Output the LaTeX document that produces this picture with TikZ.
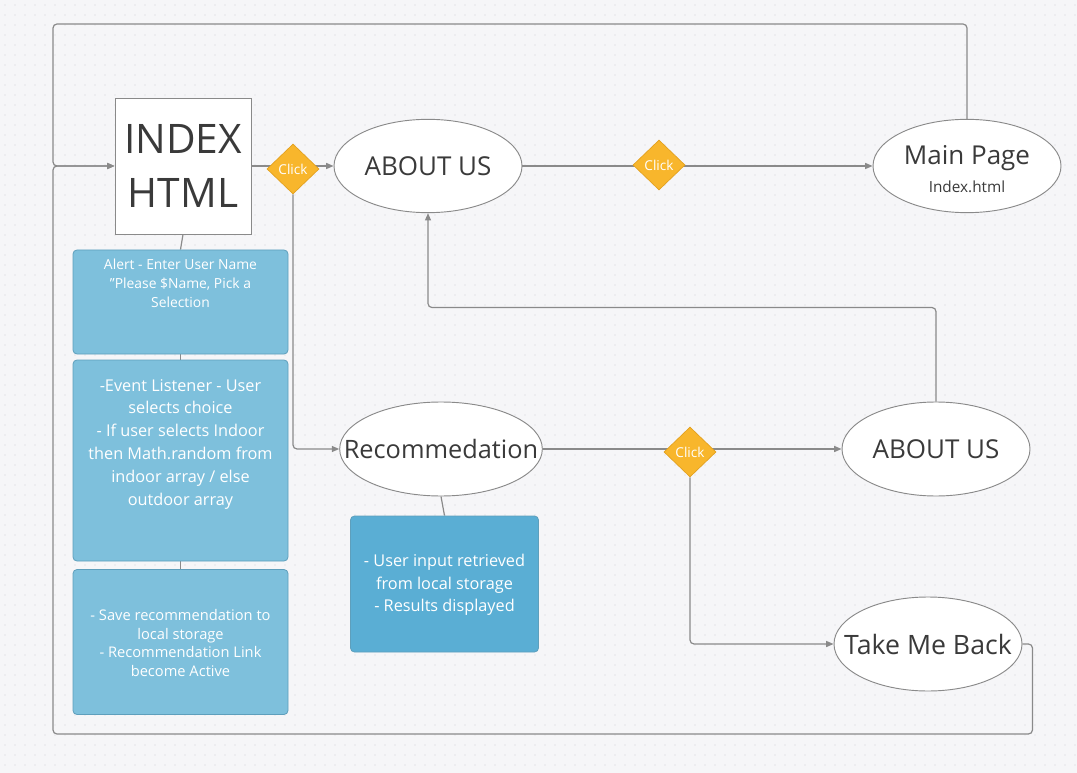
\documentclass[tikz,border=0pt]{standalone}
\usepackage{fontspec}
\setmainfont{Open Sans}
\usetikzlibrary{shapes.geometric,arrows.meta}
\pgfdeclarelayer{bgzero}
\pgfdeclarelayer{background}
\pgfsetlayers{bgzero,background,main}
\definecolor{bgc}{HTML}{F6F6F8}
\definecolor{dotc}{HTML}{E1E1E7}
\definecolor{linec}{HTML}{8A8A8A}
\definecolor{txtc}{HTML}{3A3A3A}
\definecolor{boxc}{HTML}{7EC0DC}
\definecolor{boxb}{HTML}{5E9FBC}
\definecolor{boxd}{HTML}{5AAED4}
\definecolor{clickc}{HTML}{F8B62C}
\definecolor{clickb}{HTML}{E2A01E}
\newcommand{\fs}[2]{\fontsize{#1}{#2}\selectfont}
\tikzset{
  conn/.style={draw=linec, line width=0.9pt, rounded corners=3pt},
  arr/.style={-{Triangle[length=5.5pt,width=4.5pt]}},
  ell/.style={ellipse, draw=linec, line width=0.7pt, fill=white, inner sep=0pt},
  etxt/.style={text=txtc, inner sep=0pt, align=center},
  clickbox/.style={diamond, fill=clickc, draw=clickb, line width=0.5pt, inner sep=0pt,
     minimum width=39pt, minimum height=37.5pt, text=white, font=\fs{10.2}{12}},
  bluebox/.style={rectangle, rounded corners=3pt, fill=boxc, draw=boxb, line width=0.6pt},
  bluetxt/.style={text=white, align=center, inner sep=0pt},
}
\begin{document}
\begin{tikzpicture}[x=0.75pt,y=-0.75pt]
\useasboundingbox (0,0) rectangle (1077,773);
\begin{pgfonlayer}{bgzero}
\fill[bgc] (0,0) rectangle (1077,773);
\foreach \j in {5,15,...,770} {
  \fill[dotc] \foreach \i in {5,15,...,1075} { (\i-0.6,\j-0.6) rectangle ++(1.2,1.2) };
}
\end{pgfonlayer}

% main nodes
\node[rectangle, draw=linec, line width=0.7pt, fill=white, minimum width=102pt, minimum height=102pt,
      text=txtc, align=center, font=\fs{30.5}{40.5}, inner sep=0pt] (idx) at (183,166) {INDEX\\HTML};
\node[clickbox] (c1) at (293,169) {Click};
\node[ell, minimum width=141pt, minimum height=70pt] (a1) at (428,166) {};
\node[etxt, font=\fs{19.5}{24}] (a1t) at (a1) {ABOUT US};
\node[clickbox] (c2) at (659,165) {Click};
\node[ell, minimum width=141pt, minimum height=70pt] (mp) at (967,166) {};
\node[etxt, font=\fs{19.5}{21}] (mpt) at (967,169) {Main Page\\[0pt]{\fs{11.5}{14}Index.html}};
\node[ell, minimum width=152pt, minimum height=70.5pt] (rec) at (441,449) {};
\node[etxt, font=\fs{19}{24}] (rect) at (rec) {Recommedation};
\node[clickbox] (c3) at (690,452) {Click};
\node[ell, minimum width=141pt, minimum height=70.5pt] (a2) at (936,449) {};
\node[etxt, font=\fs{19.5}{24}] (a2t) at (a2) {ABOUT US};
\node[ell, minimum width=141pt, minimum height=70.5pt] (tmb) at (928,644) {};
\node[etxt, font=\fs{20}{24}] (tmbt) at (tmb) {Take Me Back};

% blue boxes
\node[bluebox, minimum width=161.25pt, minimum height=78pt] (b1) at (180.5,302) {};
\node[bluebox, minimum width=161.25pt, minimum height=150.75pt] (b2) at (180.5,460.5) {};
\node[bluebox, minimum width=161.25pt, minimum height=108.75pt] (b3) at (180.5,642) {};
\node[bluebox, fill=boxd, minimum width=141pt, minimum height=102pt] (b4) at (444.5,584) {};

\node[bluetxt, font=\fs{10.4}{14.2}, anchor=north] (t1) at (180.5,259)
  {Alert - Enter User Name\\\char34 Please \$Name, Pick a\\Selection};
\node[bluetxt, font=\fs{12.2}{17.1}] (t2) at (180.5,444)
  {-Event Listener - User\\selects choice\\- If user selects Indoor\\then Math.random from\\indoor array / else\\outdoor array};
\node[bluetxt, font=\fs{11}{14.2}] (t3) at (180.5,643)
  {- Save recommendation to\\local storage\\- Recommendation Link\\become Active};
\node[bluetxt, font=\fs{12.2}{16.9}] (t4) at (444.5,585)
  {- User input retrieved\\from local storage\\- Results displayed};

% connectors
\coordinate (tl) at (53,24);
\coordinate (bl) at (53,734);
\begin{pgfonlayer}{background}
\draw[conn,arr] (idx.east) -- (a1.west);
\draw[conn,arr] (c1.south) |- (rec.west);
\draw[conn,arr] (a1.east) -- (mp.west);
\draw[conn,arr] (rec.east) -- (a2.west);
\draw[conn,arr] (c3.south) |- (tmb.west);
\draw[conn,arr] (a2.north) -- ++(0,-94) -| (a1.south);
\draw[conn,arr] (mp.north) |- (tl) |- (idx.west);
\draw[conn,arr] (tmb.east) -- ++(10,0) |- (bl) |- (idx.west);
\draw[conn] (idx.south) -- (b1.north);
\draw[conn] (b1.south) -- (b2.north);
\draw[conn] (b2.south) -- (b3.north);
\draw[conn] (rec.south) -- (b4.north);
\end{pgfonlayer}
\end{tikzpicture}
\end{document}
